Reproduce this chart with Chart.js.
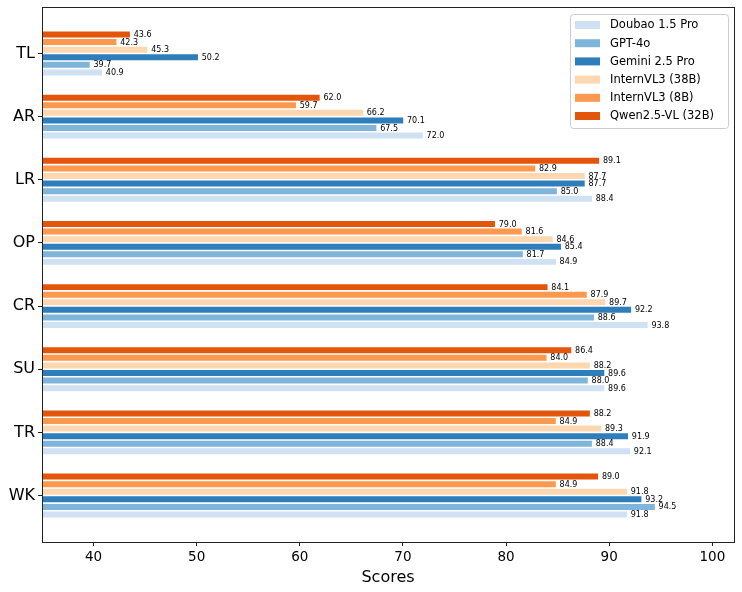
<!DOCTYPE html>
<html><head><meta charset="utf-8">
<script src="https://cdn.jsdelivr.net/npm/chart.js@4/dist/chart.umd.min.js"></script>
<style>html,body{margin:0;padding:0;background:#fff}#wrap{width:742px;height:592px}</style>
</head><body><div id="wrap"><canvas id="c" width="742" height="592"></canvas></div>
<script>
const categories = ['TL','AR','LR','OP','CR','SU','TR','WK'];
const models = ['Qwen2.5-VL (32B)','InternVL3 (8B)','InternVL3 (38B)','Gemini 2.5 Pro','GPT-4o','Doubao 1.5 Pro'];
const qwen       = [43.6, 62.0, 89.1, 79.0, 84.1, 86.4, 88.2, 89.0];
const internvl8  = [42.3, 59.7, 82.9, 81.6, 87.9, 84.0, 84.9, 84.9];
const internvl38 = [45.3, 66.2, 87.7, 84.6, 89.7, 88.2, 89.3, 91.8];
const gemini     = [50.2, 70.1, 87.7, 85.4, 92.2, 89.6, 91.9, 93.2];
const gpt4o      = [39.7, 67.5, 85.0, 81.7, 88.6, 88.0, 88.4, 94.5];
const doubao     = [40.9, 72.0, 88.4, 84.9, 93.8, 89.6, 92.1, 91.8];
const xTicks = [40, 50, 60, 70, 80, 90, 100];

const seriesValues = [qwen, internvl8, internvl38, gemini, gpt4o, doubao];
const colors = ['#e3550a', '#fd984f', '#fdd7b0', '#2f7ebc', '#7fb5da', '#cfe1f2'];
const FONT = "'DejaVu Sans', sans-serif";

const datasets = seriesValues.map((vals, s) => ({
  label: models[s],
  data: vals.map((v, i) => ({ x: v, y: i })),
  backgroundColor: colors[s],
  borderColor: 'rgba(255,255,255,0.7)',
  borderWidth: 0.8,
  borderSkipped: false,
  categoryPercentage: 0.72,
  barPercentage: 1.0
}));

const framePlugin = {
  id: 'frame',
  afterDraw(chart) {
    const { ctx, chartArea: a } = chart;
    ctx.save();
    ctx.strokeStyle = '#222';
    ctx.lineWidth = 1;
    ctx.strokeRect(Math.round(a.left) + 0.5, Math.round(a.top) + 0.5, Math.round(a.right - a.left), Math.round(a.bottom - a.top));
    ctx.restore();
  }
};

const labelPlugin = {
  id: 'valueLabels',
  afterDatasetsDraw(chart) {
    const ctx = chart.ctx;
    ctx.save();
    ctx.font = '8px ' + FONT;
    ctx.fillStyle = '#000';
    ctx.textAlign = 'left';
    ctx.textBaseline = 'middle';
    chart.data.datasets.forEach((ds, di) => {
      const meta = chart.getDatasetMeta(di);
      meta.data.forEach((bar, i) => {
        ctx.fillText(ds.data[i].x.toFixed(1), bar.x + 3, bar.y + 0.5);
      });
    });
    ctx.restore();
  }
};

const legendPlugin = {
  id: 'boxLegend',
  afterDraw(chart) {
    const ctx = chart.ctx, a = chart.chartArea;
    const items = chart.data.datasets.map((d) => ({ label: d.label, color: d.backgroundColor })).reverse();
    const w = 158, h = 114;
    const x = a.right - 6 - w, y = a.top + 7;
    ctx.save();
    ctx.beginPath();
    if (ctx.roundRect) ctx.roundRect(x + 0.5, y + 0.5, w, h, 3); else ctx.rect(x + 0.5, y + 0.5, w, h);
    ctx.fillStyle = 'rgba(255,255,255,0.85)';
    ctx.fill();
    ctx.strokeStyle = '#cccccc';
    ctx.lineWidth = 1;
    ctx.stroke();
    ctx.font = '11.5px ' + FONT;
    ctx.textBaseline = 'middle';
    ctx.textAlign = 'left';
    items.forEach((it, k) => {
      const cy = y + 11 + k * 18.2;
      ctx.fillStyle = it.color;
      ctx.fillRect(x + 5, cy - 4, 25, 8);
      ctx.fillStyle = '#000';
      ctx.fillText(it.label, x + 40, cy + 0.5);
    });
    ctx.restore();
  }
};

new Chart(document.getElementById('c'), {
  type: 'bar',
  data: { datasets },
  options: {
    indexAxis: 'y',
    responsive: false,
    animation: false,
    devicePixelRatio: 1,
    layout: { padding: { top: 7, right: 8, left: 0, bottom: 0 } },
    plugins: { legend: { display: false }, tooltip: { enabled: false } },
    scales: {
      y: {
        type: 'linear',
        reverse: true,
        offset: false,
        bounds: 'data',
        min: -0.736,
        max: 7.736,
        afterBuildTicks: (s) => { s.ticks = categories.map((c, i) => ({ value: i })); },
        afterFit: (s) => { s.width = 42; s.paddingTop = 0; s.paddingBottom = 0; },
        ticks: {
          callback: (v) => categories[v],
          font: { family: FONT, size: 16 },
          color: '#000',
          padding: 3,
          autoSkip: false
        },
        grid: { display: true, offset: false, drawOnChartArea: false, drawTicks: true, tickLength: 4, color: '#222' },
        border: { display: false }
      },
      x: {
        type: 'linear',
        bounds: 'data',
        min: 35,
        max: 102.1,
        afterBuildTicks: (s) => { s.ticks = xTicks.map(v => ({ value: v })); },
        afterFit: (s) => { s.height = 50; s.paddingLeft = 0; s.paddingRight = 0; },
        ticks: {
          callback: (v) => String(v),
          font: { family: FONT, size: 13.5 },
          color: '#000',
          padding: 3,
          maxRotation: 0,
          autoSkip: false
        },
        grid: { display: true, offset: false, drawOnChartArea: false, drawTicks: true, tickLength: 4, color: '#222' },
        border: { display: false },
        title: {
          display: true,
          text: 'Scores',
          font: { family: FONT, size: 16 },
          color: '#000',
          padding: { top: 0, bottom: 5 }
        }
      }
    }
  },
  plugins: [framePlugin, labelPlugin, legendPlugin]
});
</script>
</body></html>
